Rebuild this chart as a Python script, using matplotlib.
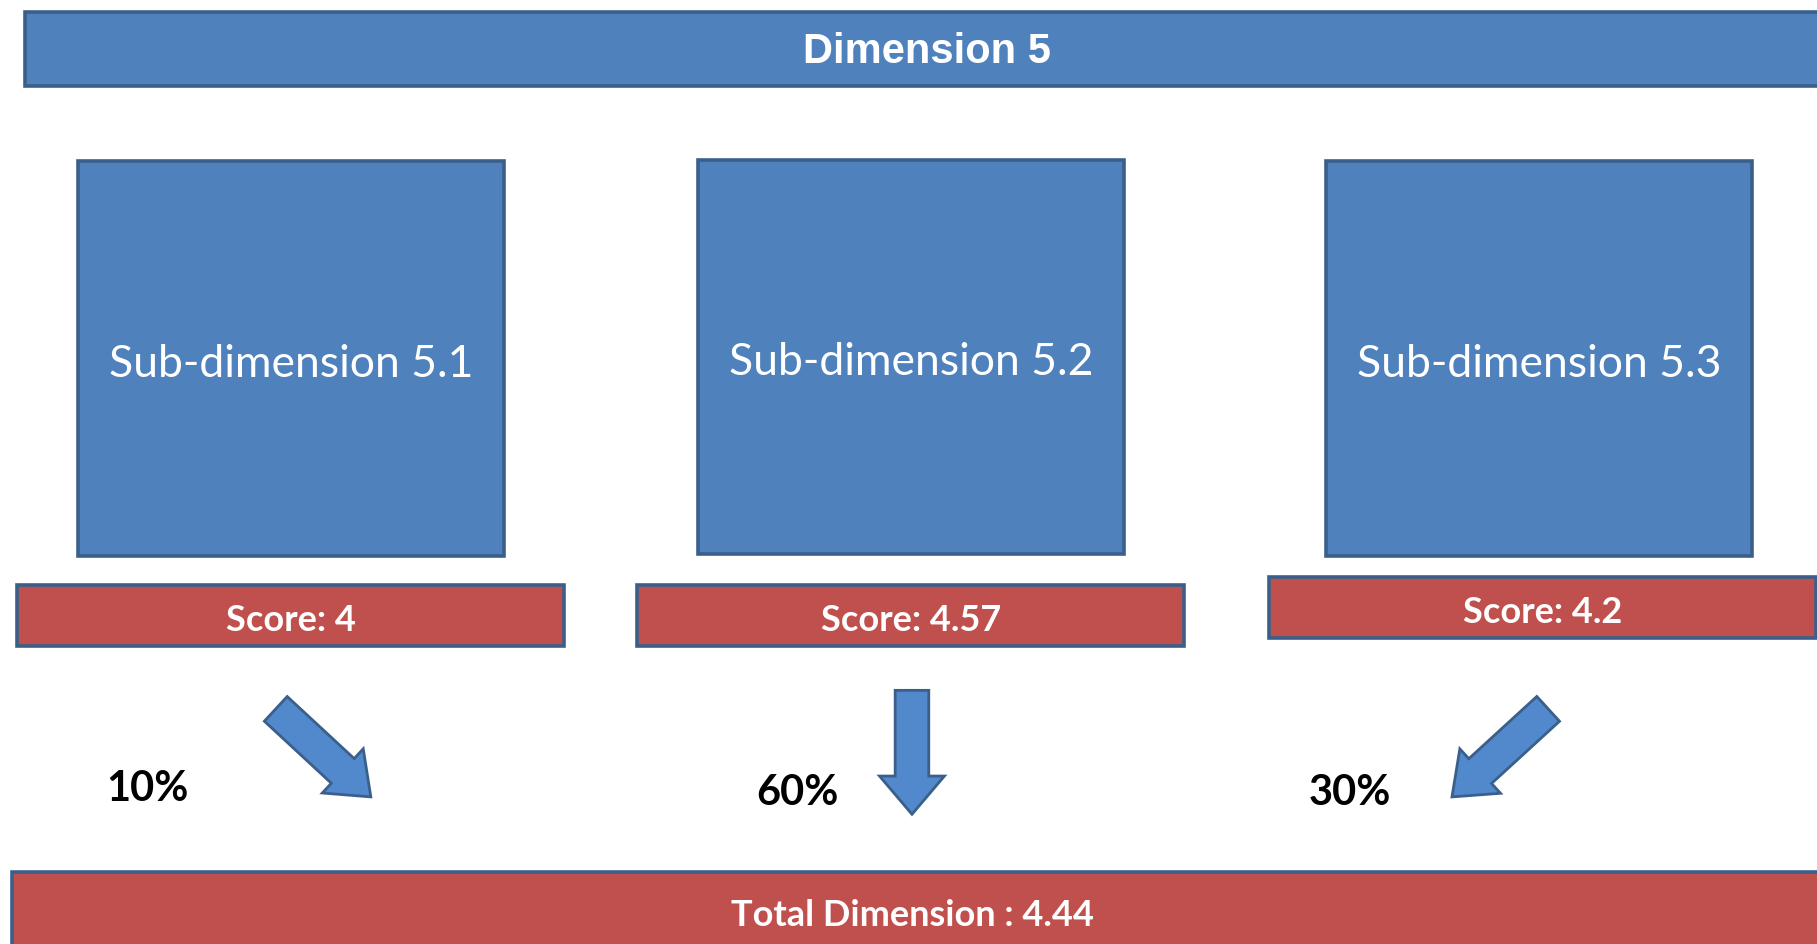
import matplotlib.pyplot as plt
import matplotlib.patches as mpatches

# diagram content
title = 'Dimension 5'
sub_names = ['Sub-dimension 5.1', 'Sub-dimension 5.2', 'Sub-dimension 5.3']
scores = ['4', '4.57', '4.2']
weights = ['10%', '60%', '30%']
total = '4.44'

blue = '#4F81BD'
edge = '#3A5F8B'
red = '#C0504D'
arrow_fill = '#5189CC'

fig = plt.figure(figsize=(18.17, 9.44), dpi=100)
ax = fig.add_axes([0, 0, 1, 1])
ax.set_xlim(0, 1568)
ax.set_ylim(815, 0)
ax.axis('off')


def box(x0, y0, x1, y1, fc):
    ax.add_patch(mpatches.Rectangle((x0, y0), x1 - x0, y1 - y0, facecolor=fc,
                                    edgecolor=edge, linewidth=2.6))


# header bar
box(22, 10, 1580, 74, blue)
ax.text(800, 45, title, color='white', fontsize=30, fontweight='bold',
        family='Liberation Sans', ha='center', va='center')

# sub-dimension boxes + score bars
sub_boxes = [(67, 139, 435, 480), (602, 138, 970, 478), (1144, 139, 1512, 480)]
score_boxes = [(15, 505, 487, 558), (550, 505, 1022, 558), (1095, 498, 1567, 551)]
for name, sc, b, s in zip(sub_names, scores, sub_boxes, score_boxes):
    box(*b, blue)
    ax.text((b[0] + b[2]) / 2, (b[1] + b[3]) / 2 + 5, name, color='white',
            fontsize=32, family='Lato', ha='center', va='center')
    box(*s, red)
    ax.text((s[0] + s[2]) / 2, (s[1] + s[3]) / 2 + 4, 'Score: ' + sc,
            color='white', fontsize=26, fontweight='bold', family='Lato',
            ha='center', va='center')

# weight arrows
arrows = [((238, 612), (320, 688)), ((787, 596), (787, 703)), ((1336, 612), (1253, 688))]
head_w = [52, 56, 52]
for ((x0, y0), (x1, y1)), hw in zip(arrows, head_w):
    ax.add_patch(mpatches.FancyArrow(x0, y0, x1 - x0, y1 - y0, width=29,
                                     head_width=hw, head_length=33,
                                     length_includes_head=True,
                                     facecolor=arrow_fill, edgecolor=edge,
                                     linewidth=2))

label_pos = [(127, 681), (688, 685), (1165, 685)]
for w, (x, y) in zip(weights, label_pos):
    ax.text(x, y, w, color='black', fontsize=30, fontweight='bold',
            family='Lato', ha='center', va='center')

# total bar
box(10, 753, 1580, 830, red)
ax.text(787, 790, 'Total Dimension : ' + total, color='white', fontsize=26,
        fontweight='bold', family='Lato', ha='center', va='center')

fig.savefig('out.png', dpi=100)
